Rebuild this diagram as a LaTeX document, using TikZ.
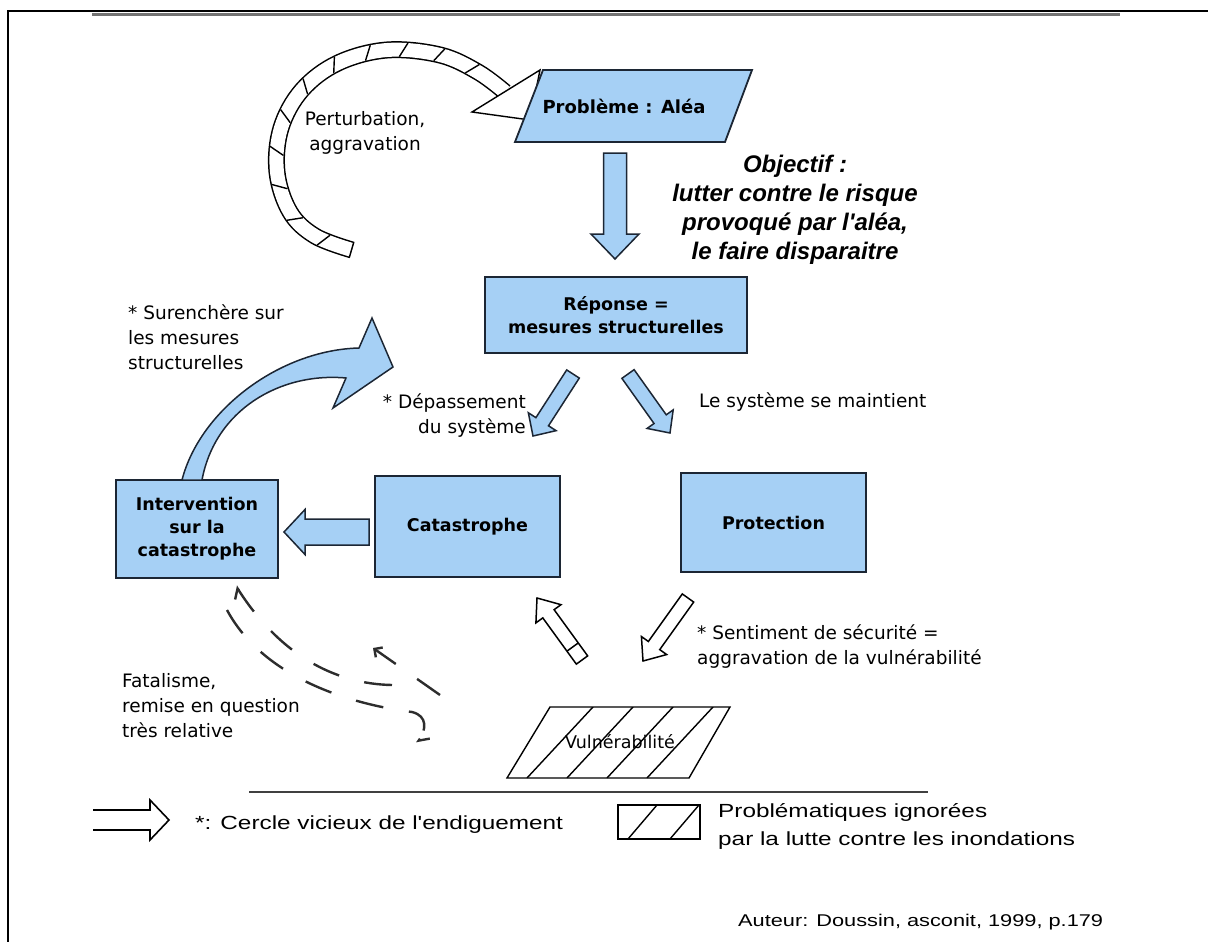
\documentclass[tikz,border=0pt]{standalone}
\usepackage{fontspec}
\setmainfont{DejaVu Sans}
\newfontfamily\objfont{Liberation Sans}
\newfontfamily\legfont[FakeStretch=1.28]{Liberation Sans}
\usetikzlibrary{calc,arrows.meta,decorations.markings}

\definecolor{boxblue}{RGB}{166,208,245}
\definecolor{boxline}{RGB}{28,38,52}
\definecolor{dashgray}{RGB}{45,45,45}

% block arrow: [style]{tail}{tip}{half shaft}{half head}{head length}
\newcommand\blockarrow[6][]{%
  \coordinate (ba-h) at ($(#3)!#6!(#2)$);
  \draw[#1] ($(#2)!#4!90:(#3)$) -- ($(ba-h)!#4!-90:(#2)$) -- ($(ba-h)!#5!-90:(#2)$)
    -- (#3) -- ($(ba-h)!#5!90:(#2)$) -- ($(ba-h)!#4!90:(#2)$) -- ($(#2)!#4!-90:(#3)$) -- cycle;}

\begin{document}
\begin{tikzpicture}[x=1pt, y=-1pt,
    shapebox/.style={draw=boxline, line width=1.8pt, fill=boxblue},
    box/.style={shapebox, font=\bfseries\fontsize{17.5}{23}\selectfont, align=center, inner sep=0pt},
    lbl/.style={font=\fontsize{18.5}{25}\selectfont, inner sep=0pt},
    blue arrow/.style={draw=boxline, line width=1.5pt, fill=boxblue},
    white arrow/.style={draw=black, line width=1.5pt, fill=white},
    hatchpen/.style={draw=black, line width=1.4pt},
    fatal/.style={draw=dashgray, line width=2.4pt, dash pattern=on 28pt off 26pt},
    leg/.style={font=\legfont\fontsize{19}{28}\selectfont, inner sep=0pt}]
    \useasboundingbox (0,0) rectangle (1208,942);

    % frame
    \draw[line width=2pt] (8,942) -- (8,11) -- (1208,11);
    \draw[line width=2.5pt, black!55] (92,14.5) -- (1120,14.5);

    % perturbation loop
    \draw[white, line width=14pt, preaction={draw=black, line width=17pt},
      postaction={decorate, decoration={markings,
        mark=at position 0.5pt with {\draw[hatchpen] (0,-8pt) -- (0,8pt);},
        mark=between positions 0.07 and 0.93 step 36pt with {\draw[hatchpen] (-4pt,-7pt) -- (4pt,7pt);}}}]
      plot[smooth, tension=0.6] coordinates {(352,250) (315,236) (290,212) (277,172) (281,128) (302,90) (338,63) (387,50) (440,55) (478,72) (505,92)};
    \draw[hatchpen, fill=white] (472,112) -- (540,70) -- (530,120) -- cycle;
    \node[lbl, align=center] (pert) at (365,133) {Perturbation,\\aggravation};

    % problem
    \draw[shapebox] (543,70) -- (752,70) -- (725,142) -- (515,142) -- cycle;
    \node[font=\bfseries\fontsize{18}{22}\selectfont] (pb) at (624,106) {Problème : Aléa};

    \node[font=\objfont\bfseries\itshape\fontsize{24}{29}\selectfont, align=center, inner sep=0pt] (obj) at (795,210)
      {Objectif :\\lutter contre le risque\\provoqué par l'aléa,\\le faire disparaitre};

    % boxes
    \node[box, minimum width=262pt, minimum height=76pt] (rep) at (616,315) {Réponse =\\mesures structurelles};
    \node[box, minimum width=185pt, minimum height=101pt] (cat) at (467.5,526.5) {Catastrophe};
    \node[box, minimum width=162pt, minimum height=98pt] (int) at (197,529) {Intervention\\sur la\\catastrophe};
    \node[box, minimum width=185pt, minimum height=99pt] (prot) at (773.5,522.5) {Protection};

    % vulnerability
    \begin{scope}
      \clip (550,707) -- (730,707) -- (689,778) -- (507,778) -- cycle;
      \foreach \k in {0,...,3} \draw[hatchpen] (593+40*\k,707) -- (527+40*\k,778);
    \end{scope}
    \draw[hatchpen] (550,707) -- (730,707) -- (689,778) -- (507,778) -- cycle;
    \node[font=\fontsize{17.5}{20}\selectfont, inner sep=0pt] (vul) at (620,742) {Vulnérabilité};

    % arrow ends
    \coordinate (pb-out) at (615,153);   \coordinate (rep-in) at (615,259);
    \coordinate (rep-l) at (573,374);    \coordinate (cat-in) at (533,436);
    \coordinate (rep-r) at (628,374);    \coordinate (prot-in) at (670,433);
    \coordinate (cat-out) at (369,532);  \coordinate (int-in) at (284,532);
    \coordinate (prot-out) at (688,598); \coordinate (vul-in) at (643,661);
    \coordinate (vul-out) at (582,660);  \coordinate (cat-up) at (537,598);

    \blockarrow[blue arrow]{pb-out}{rep-in}{11.5pt}{24pt}{25pt}
    \blockarrow[blue arrow]{rep-l}{cat-in}{7.5pt}{16.5pt}{17pt}
    \blockarrow[blue arrow]{rep-r}{prot-in}{7.5pt}{16pt}{17pt}
    \blockarrow[blue arrow]{cat-out}{int-in}{13pt}{22.5pt}{21pt}
    \blockarrow[white arrow]{prot-out}{vul-in}{7pt}{15.5pt}{19pt}
    \blockarrow[white arrow]{vul-out}{cat-up}{7pt}{15.5pt}{19.5pt}
    \coordinate (vx) at ($(vul-out)!16pt!(cat-up)$);
    \draw[white arrow] ($(vx)!7pt!90:(cat-up)$) -- ($(vx)!7pt!-90:(cat-up)$);

    % back to the measures
    \draw[blue arrow] (182,480) .. controls (200,410) and (280,350) .. (359,348) -- (372,318) -- (393,367)
      -- (333,408) -- (346,378) .. controls (280,372) and (215,410) .. (202,480) -- cycle;

    % labels
    \node[lbl, anchor=west, align=left] (sur) at (128,337) {* Surenchère sur\\les mesures\\structurelles};
    \node[lbl, anchor=east, align=right] (dep) at (526,415.5) {* Dépassement\\du système};
    \node[lbl, anchor=west] (maint) at (699,402) {Le système se maintient};
    \node[lbl, anchor=west, align=left] (secu) at (697,647) {* Sentiment de sécurité =\\aggravation de la vulnérabilité};
    \node[lbl, anchor=west, align=left] (fata) at (122,706) {Fatalisme,\\remise en question\\très relative};

    % fatalism (dashed)
    \draw[fatal, -{Straight Barb[length=6pt,width=12pt]}] (440,695) -- (373,648);
    \draw[fatal, -{Straight Barb[harpoon,length=8pt,width=16pt]}] (392,685) .. controls (335,684) and (280,655) .. (236,586);
    \draw[fatal, -{Straight Barb[harpoon,length=8pt,width=16pt]}] (227,610) .. controls (270,690) and (380,708) .. (412,712)
      .. controls (428,716) and (426,730) .. (417,743);

    % legend
    \draw[line width=2.5pt, black!75] (249,792) -- (928,792);
    \draw[line width=1.6pt] (93,810) -- (150,810) -- (150,800) -- (169,820) -- (150,840) -- (150,830) -- (93,830);
    \node[leg, anchor=west] (cercle) at (195,825) {*: Cercle vicieux de l'endiguement};
    \draw[hatchpen] (618,805) rectangle (700,839);
    \draw[hatchpen] (657,805) -- (628,839) (699,805) -- (670,839);
    \node[leg, anchor=west, align=left] (ign) at (718,826) {Problématiques ignorées\\par la lutte contre les inondations};
    \node[leg, anchor=west, font=\legfont\fontsize{17}{20}\selectfont] (auth) at (738,922) {Auteur: Doussin, asconit, 1999, p.179};
\end{tikzpicture}
\end{document}
